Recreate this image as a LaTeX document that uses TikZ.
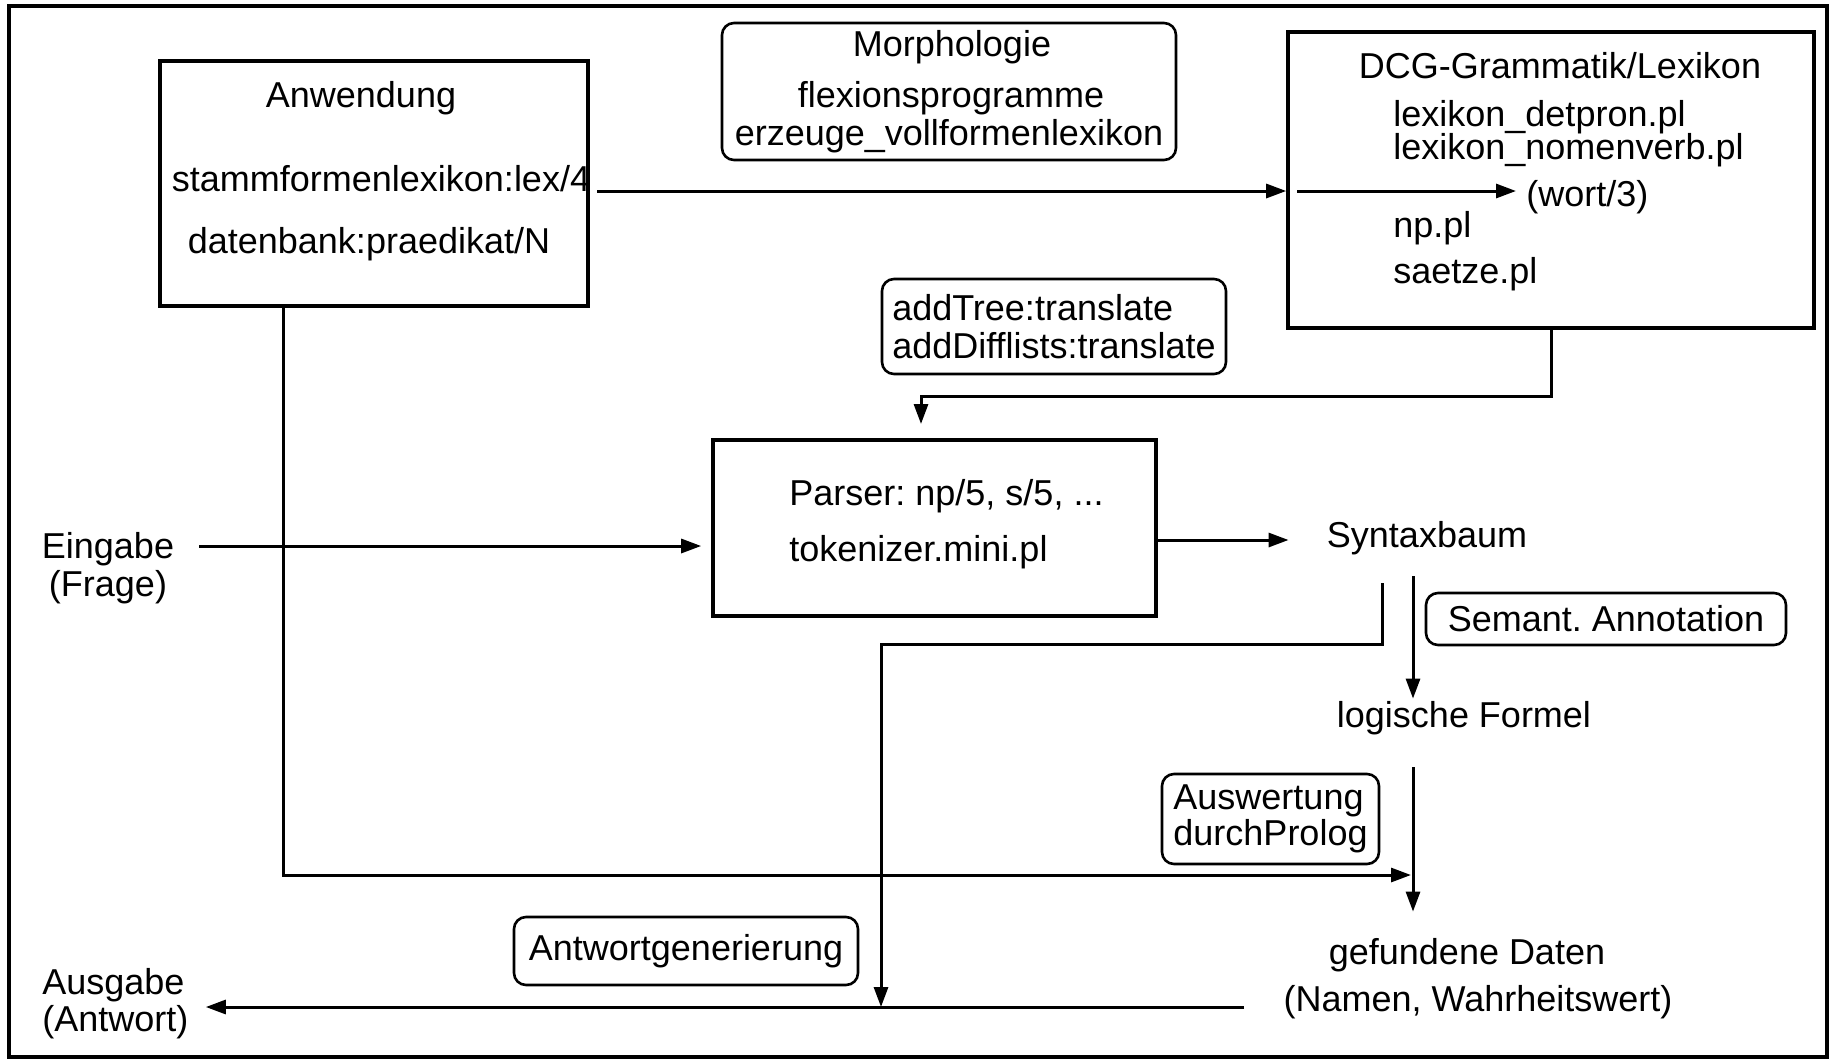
\documentclass[tikz,border=0pt]{standalone}
\usepackage{fontspec}
\setmainfont{Liberation Sans}
\usetikzlibrary{arrows.meta}

\tikzset{
  every node/.style={font=\fontsize{18}{21}\selectfont\frenchspacing},
  box/.style={draw, line width=1.8pt, inner sep=0pt},
  rbox/.style={draw, rounded corners=6pt, line width=1.3pt, inner sep=0pt, align=left},
  lbl/.style={inner sep=1pt, text height=13pt, text depth=4pt, yshift=-2pt},
  mlbl/.style={inner sep=1pt, yshift=-2pt},
  conn/.style={line width=1.5pt},
  arr/.style={conn, -{Triangle[length=10pt,width=7pt]}},
}

\begin{document}
\begin{tikzpicture}[x=0.5pt, y=-0.5pt]
   \useasboundingbox (0,0) rectangle (1836,1061);
   \draw[line width=1.8pt] (9,6) rectangle (1827,1057);

   % boxes
   \node[box, minimum width=214pt, minimum height=122.5pt] (anw) at (374,183.5) {};
   \node[rbox, minimum width=227pt, minimum height=68.5pt] (morph) at (949,91.5) {};
   \node[box, minimum width=263pt, minimum height=148pt] (dcg) at (1551,180) {};
   \node[rbox, minimum width=172pt, minimum height=47.5pt] (trans) at (1054,326.5)
     {addTree:translate\\[-2pt]addDifflists:translate};
   \node[box, minimum width=221.5pt, minimum height=88pt] (parser) at (934.5,528) {};
   \node[rbox, minimum width=180pt, minimum height=26pt] (sem) at (1606,619) {Semant. Annotation};
   \node[rbox, minimum width=108.5pt, minimum height=45pt] (ausw) at (1270.5,819)
     {Auswertung\\[-3pt]durchProlog};
   \node[rbox, minimum width=172pt, minimum height=34pt] (gen) at (686,951) {Antwortgenerierung};

   % texts
   \node[lbl] (anwT) at (361,94) {Anwendung};
   \node[lbl] (lex) at (381,178) {stammformenlexikon:lex/4};
   \node[lbl] (db) at (369,240) {datenbank:praedikat/N};
   \node[lbl] (morphT) at (952,43) {Morphologie};
   \node[lbl] (flex) at (951,94) {flexionsprogramme};
   \node[lbl] (voll) at (949,132) {erzeuge\_vollformenlexikon};
   \node[lbl] (dcgT) at (1560,65) {DCG-Grammatik/Lexikon};
   \node[lbl, anchor=west] (detpron) at (1391,113) {lexikon\_detpron.pl};
   \node[lbl, anchor=west] (nomverb) at (1391,146) {lexikon\_nomenverb.pl};
   \node[lbl, anchor=west] (wort) at (1524,193) {(wort/3)};
   \node[lbl, anchor=west] (np) at (1391,224) {np.pl};
   \node[lbl, anchor=west] (saetze) at (1391,270) {saetze.pl};
   \node[lbl, anchor=west] (pars) at (787,492) {Parser: np/5, s/5, ...};
   \node[lbl, anchor=west] (tok) at (787,548) {tokenizer.mini.pl};
   \node[mlbl, align=center] (ein) at (108,564) {Eingabe\\[-2pt](Frage)};
   \node[mlbl, align=left, anchor=west] (aus) at (40,1000) {Ausgabe\\[-2.5pt](Antwort)};
   \node[lbl] (syn) at (1427,534) {Syntaxbaum};
   \node[lbl] (fml) at (1464,714) {logische Formel};
   \node[lbl] (dat) at (1467,951) {gefundene Daten};
   \node[lbl] (namen) at (1478,998) {(Namen, Wahrheitswert)};

   % junctions
   \coordinate (lexout) at (597,191);
   \coordinate (wortin) at (1297,191);
   \coordinate (parin) at (921,424);
   \coordinate (qin) at (199,546);
   \coordinate (synA) at (1413,576);
   \coordinate (synB) at (1382,583);
   \coordinate (fmlA) at (1413,767);
   \coordinate (evalin) at (1411,875);
   \coordinate (datout) at (1244,1007);
   \coordinate (genin) at (881,1007);

   % connectors
   \draw[arr] (lexout) -- (dcg.west |- lexout);
   \draw[arr, shorten >=4pt] (wortin) -- (wort.west |- wortin);
   \draw[arr] (dcg.south) -- ++(0,67) -| (parin);
   \draw[arr, shorten >=5pt] (qin) -- (parser.west |- qin);
   \draw[arr, shorten >=18pt] (parser.east |- 0,540) -- (syn.west |- 0,540);
   \draw[arr] (synA) -- (synA |- fml.north);
   \draw[arr] (synB) -- ++(0,61) -| (genin);
   \draw[arr, shorten >=12pt] (fmlA) -- (fmlA |- dat.north);
   \draw[arr] (anw.south -| 283,0) |- (evalin);
   \draw[arr, shorten >=7.5pt] (datout) -- (aus.east |- datout);
\end{tikzpicture}
\end{document}
